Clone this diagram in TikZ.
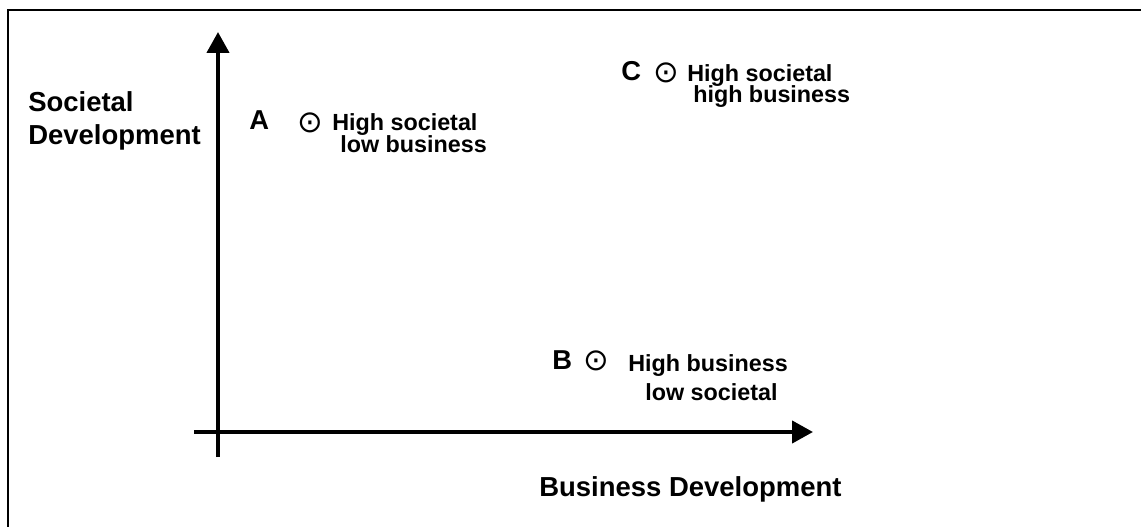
\documentclass[tikz,border=0pt]{standalone}
\usepackage{fontspec}
\setmainfont{Liberation Sans}
\newfontfamily\symfont{DejaVu Sans}
\usetikzlibrary{arrows.meta}

\begin{document}
\begin{tikzpicture}[x=0.75pt,y=-0.75pt,
    axis/.style={line width=3.2pt,-{Triangle[length=15.75pt,width=16.5pt]}},
    axislabel/.style={anchor=base west,inner sep=0pt,font=\fontsize{20.6}{24}\selectfont\bfseries},
    pointletter/.style={anchor=base west,inner sep=0pt,font=\fontsize{20.5}{24}\selectfont\bfseries},
    pointmark/.style={inner sep=0pt,font=\fontsize{23}{26}\selectfont\symfont},
    pointtext/.style={anchor=base west,inner sep=0pt,font=\fontsize{17.5}{20}\selectfont\bfseries}]
            \useasboundingbox (0,0) rectangle (1141,527);

            %frame
            \draw[line width=1.5pt] (8,527)--(8,10)--(1141,10);

            %axes
            \coordinate (ybot) at (218,457);
            \coordinate (ytop) at (218,32);
            \coordinate (xleft) at (194,432);
            \coordinate (xright) at (813,432);

            \draw[axis] (ybot)--(ytop);

            \draw[axis] (xleft)--(xright);

            \node[axislabel] (soc1) at (28,112) {Societal};

            \node[axislabel] (soc2) at (28,145) {Development};

            \node[axislabel] (bus) at (539,496) {Business Development};

            %point A
            \node[pointletter] (A) at (249,130) {A};

            \node[pointmark] (Amark) at (310,123) {⊙};

            \node[pointtext] (Atop) at (332,131) {High societal};

            \node[pointtext] (Abot) at (340,153) {low business};

            %point B
            \node[pointletter] (B) at (552,369) {B};

            \node[pointmark] (Bmark) at (596,361) {⊙};

            \node[pointtext] (Btop) at (628,371) {High business};

            \node[pointtext] (Bbot) at (645,400) {low societal};

            %point C
            \node[pointletter] (C) at (621,81) {C};

            \node[pointmark] (Cmark) at (666,73) {⊙};

            \node[pointtext] (Ctop) at (687,82) {High societal};

            \node[pointtext] (Cbot) at (693,103) {high business};
        \end{tikzpicture}
\end{document}
